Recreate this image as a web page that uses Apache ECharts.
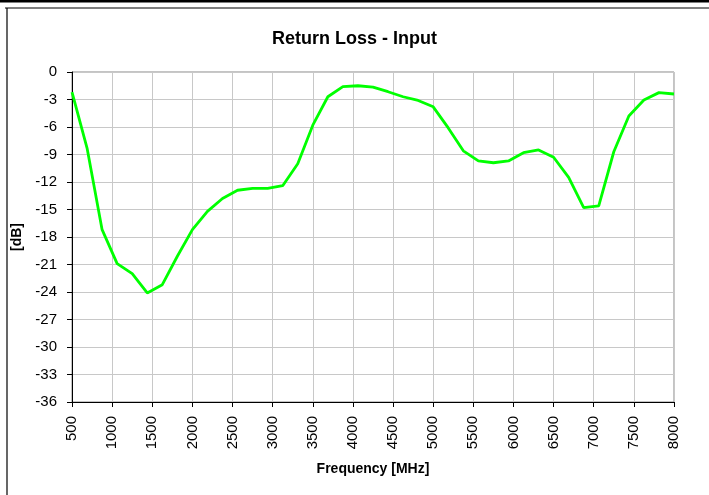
<!DOCTYPE html>
<html>
<head>
<meta charset="utf-8">
<script src="https://cdn.jsdelivr.net/npm/echarts@6/dist/echarts.min.js"></script>
<style>
  html, body { margin: 0; padding: 0; background: #fff; }
  #returnLoss { width: 709px; height: 495px; }
</style>
</head>
<body>
<div id="returnLoss"></div>
<script>
// frequency points [MHz]
var freqMHz = [500, 687.5, 875, 1062.5, 1250, 1437.5, 1625, 1812.5, 2000, 2187.5,
  2375, 2562.5, 2750, 2937.5, 3125, 3312.5, 3500, 3687.5, 3875, 4062.5,
  4250, 4437.5, 4625, 4812.5, 5000, 5187.5, 5375, 5562.5, 5750, 5937.5,
  6125, 6312.5, 6500, 6687.5, 6875, 7062.5, 7250, 7437.5, 7625, 7812.5, 8000];
// return loss [dB]
var returnLossDb = [-2.2, -8.3, -17.2, -20.9, -22.0, -24.1, -23.2, -20.1, -17.2, -15.2,
  -13.8, -12.9, -12.7, -12.7, -12.4, -10.0, -5.8, -2.7, -1.6, -1.5,
  -1.65, -2.15, -2.7, -3.1, -3.8, -6.1, -8.6, -9.7, -9.9, -9.7,
  -8.8, -8.5, -9.3, -11.5, -14.8, -14.6, -8.7, -4.8, -3.05, -2.25, -2.4];

var chartDom = document.getElementById('returnLoss');
var myChart = echarts.init(chartDom);

var points = [];
for (var i = 0; i < freqMHz.length; i++) {
  points.push([freqMHz[i], returnLossDb[i]]);
}

var font = 'Liberation Sans, Arial, sans-serif';

var option = {
  animation: false,
  backgroundColor: '#fff',
  textStyle: { fontFamily: font },
  title: {
    text: 'Return Loss - Input',
    left: 'center',
    top: 25,
    textStyle: { fontFamily: font, fontSize: 18, fontWeight: 'bold', color: '#000' }
  },
  grid: {
    left: 72,
    top: 72,
    right: 35,
    bottom: 93,
    show: true,
    borderColor: '#888',
    borderWidth: 1
  },
  graphic: [
    { type: 'rect', shape: { x: 0, y: 0, width: 709, height: 2.5 }, style: { fill: '#000' } },
    { type: 'line', shape: { x1: 5, y1: 8, x2: 709, y2: 8 }, style: { stroke: '#000', lineWidth: 1.2 } },
    { type: 'line', shape: { x1: 7, y1: 8, x2: 7, y2: 495 }, style: { stroke: '#000', lineWidth: 1.2 } }
  ],
  xAxis: {
    type: 'value',
    min: 500,
    max: 8000,
    interval: 500,
    name: 'Frequency [MHz]',
    nameLocation: 'middle',
    nameGap: 60,
    nameTextStyle: { fontFamily: font, fontSize: 14, fontWeight: 'bold', color: '#000' },
    axisLine: { onZero: false, lineStyle: { color: '#000', width: 1 } },
    axisTick: { show: true, length: 5, lineStyle: { color: '#000' } },
    axisLabel: {
      rotate: 90, margin: 14, fontFamily: font, fontSize: 15, color: '#000',
      formatter: function (v) { return String(v); }
    },
    splitLine: { show: true, lineStyle: { color: '#c8c8c8', width: 1 } }
  },
  yAxis: {
    type: 'value',
    min: -36,
    max: 0,
    interval: 3,
    name: '[dB]',
    nameLocation: 'middle',
    nameGap: 46,
    nameRotate: 90,
    nameTextStyle: { fontFamily: font, fontSize: 14, fontWeight: 'bold', color: '#000' },
    axisLine: { show: true, lineStyle: { color: '#000', width: 1 } },
    axisTick: { show: true, length: 5, lineStyle: { color: '#000' } },
    axisLabel: { margin: 15, fontFamily: font, fontSize: 15, color: '#000' },
    splitLine: { show: true, lineStyle: { color: '#c8c8c8', width: 1 } }
  },
  series: [
    {
      name: 'Return Loss',
      type: 'line',
      data: points,
      symbol: 'none',
      smooth: false,
      lineStyle: { color: '#00ff00', width: 2.8 },
      itemStyle: { color: '#00ff00' }
    }
  ]
};

myChart.setOption(option);
</script>
</body>
</html>
